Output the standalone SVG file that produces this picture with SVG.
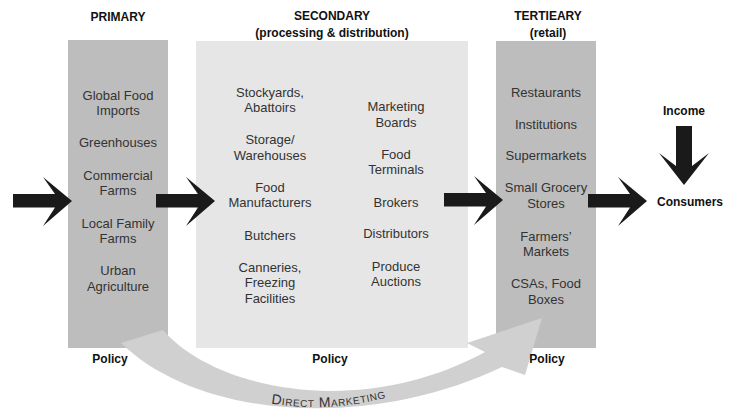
<svg xmlns="http://www.w3.org/2000/svg" width="740" height="414" viewBox="0 0 740 414">
<style>
  .hdr { font-family: "Liberation Sans", Arial, sans-serif; font-weight: bold; font-size: 12px; fill: #111; text-anchor: middle; }
  .item { font-family: "Liberation Sans", Arial, sans-serif; font-size: 13px; fill: #333; text-anchor: middle; }
  .dark { fill: #bdbdbd; }
  .light { fill: #e6e6e6; }
  .arrow { fill: #1a1a1a; }
  .band { fill: #d0d0d0; }
  .dm { font-family: "Liberation Sans", Arial, sans-serif; font-size: 14px; font-variant: small-caps; letter-spacing: 0.6px; fill: #333; }
</style>
<defs>
  <path id="harrow" d="M-59,-7 H-17 L-29,-24 L0,0 L-29,25 L-17,6.5 H-59 Z"/>
  <path id="dmpath" d="M268,403 Q330,414 392,396"/>
</defs>

<g id="primary">
  <rect class="dark" x="68" y="40" width="100" height="308"/>
</g>
<g id="secondary">
  <rect class="light" x="196" y="41" width="272" height="307"/>
</g>
<g id="tertiary">
  <rect class="dark" x="496" y="41" width="100" height="307"/>
</g>

<g id="connectors">
  <path id="direct-marketing" class="band" d="M121,343 L163,330 C215,390 360,420 485,352 L467,343 L542,318 L525,375 L502,367 C370,430 200,420 121,343 Z"/>
  <use href="#harrow" class="arrow" transform="translate(72,201)"/>
  <use href="#harrow" class="arrow" transform="translate(215,201)"/>
  <use href="#harrow" class="arrow" transform="translate(503,200)"/>
  <use href="#harrow" class="arrow" transform="translate(647,201)"/>
  <path id="income-arrow" class="arrow" d="M676,126 H692 V166 L709,153 L684,185 L659,153 L676,166 Z"/>
  <text class="dm"><textPath href="#dmpath" startOffset="3">Direct Marketing</textPath></text>
</g>

<g id="primary-text">
  <text class="hdr" x="118" y="21">PRIMARY</text>
  <text class="item" x="118" y="100">Global Food</text>
  <text class="item" x="118" y="115">Imports</text>
  <text class="item" x="118" y="147">Greenhouses</text>
  <text class="item" x="118" y="180">Commercial</text>
  <text class="item" x="118" y="195">Farms</text>
  <text class="item" x="118" y="228">Local Family</text>
  <text class="item" x="118" y="243">Farms</text>
  <text class="item" x="118" y="275">Urban</text>
  <text class="item" x="118" y="291">Agriculture</text>
  <text class="hdr" x="110" y="363">Policy</text>
</g>

<g id="secondary-text">
  <text class="hdr" x="332" y="20">SECONDARY</text>
  <text class="hdr" x="332" y="37">(processing &amp; distribution)</text>
  <text class="item" x="270" y="97">Stockyards,</text>
  <text class="item" x="270" y="112">Abattoirs</text>
  <text class="item" x="270" y="144">Storage/</text>
  <text class="item" x="270" y="160">Warehouses</text>
  <text class="item" x="270" y="192">Food</text>
  <text class="item" x="270" y="207">Manufacturers</text>
  <text class="item" x="270" y="240">Butchers</text>
  <text class="item" x="270" y="272">Canneries,</text>
  <text class="item" x="270" y="287">Freezing</text>
  <text class="item" x="270" y="303">Facilities</text>
  <text class="item" x="396" y="111">Marketing</text>
  <text class="item" x="396" y="127">Boards</text>
  <text class="item" x="396" y="159">Food</text>
  <text class="item" x="396" y="174">Terminals</text>
  <text class="item" x="396" y="207">Brokers</text>
  <text class="item" x="396" y="238">Distributors</text>
  <text class="item" x="396" y="271">Produce</text>
  <text class="item" x="396" y="286">Auctions</text>
  <text class="hdr" x="330" y="363">Policy</text>
</g>

<g id="tertiary-text">
  <text class="hdr" x="548" y="20">TERTIEARY</text>
  <text class="hdr" x="548" y="37">(retail)</text>
  <text class="item" x="546" y="97">Restaurants</text>
  <text class="item" x="546" y="129">Institutions</text>
  <text class="item" x="546" y="160">Supermarkets</text>
  <text class="item" x="546" y="192">Small Grocery</text>
  <text class="item" x="546" y="208">Stores</text>
  <text class="item" x="546" y="241">Farmers’</text>
  <text class="item" x="546" y="256">Markets</text>
  <text class="item" x="546" y="288">CSAs, Food</text>
  <text class="item" x="546" y="304">Boxes</text>
  <text class="hdr" x="547" y="363">Policy</text>
</g>

<g id="consumers">
  <text class="hdr" x="684" y="115">Income</text>
  <text class="hdr" x="690" y="206">Consumers</text>
</g>
</svg>
